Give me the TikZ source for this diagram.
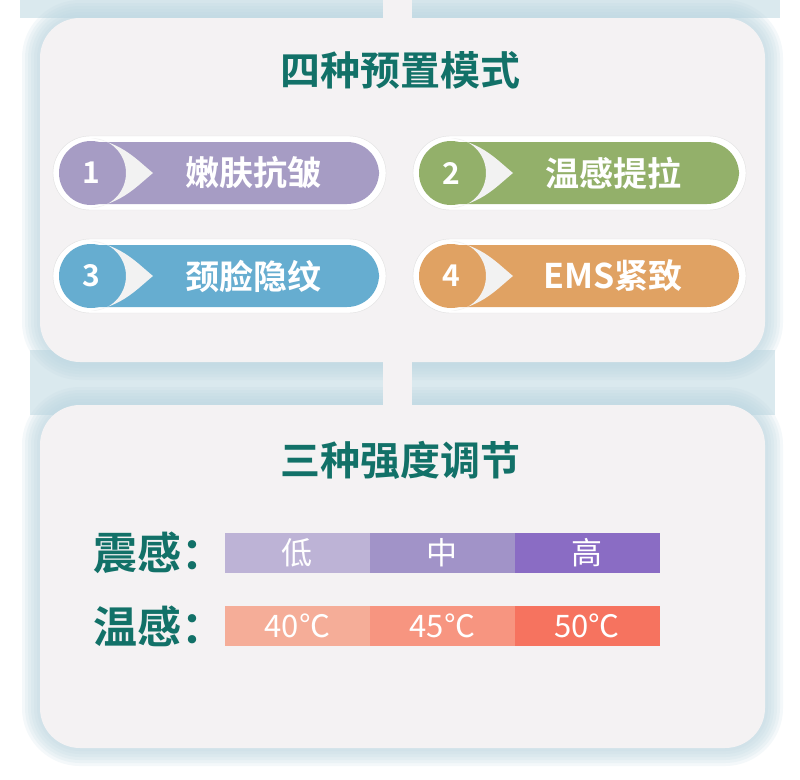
\documentclass[tikz,border=0pt]{standalone}
\usepackage{fontspec}
\newfontfamily\cjk{Noto Sans CJK SC}
\newfontfamily\cjkb{Noto Sans CJK SC Bold}
\usetikzlibrary{positioning}
\definecolor{panelbg}{HTML}{F4F2F3}
\definecolor{glowblue}{HTML}{BCD6E1}
\definecolor{tealtext}{HTML}{127168}
\definecolor{modepurple}{HTML}{A69CC4}
\definecolor{modegreen}{HTML}{93B06A}
\definecolor{modeblue}{HTML}{66ADD0}
\definecolor{modeorange}{HTML}{E0A263}
\definecolor{vibA}{HTML}{BDB3D6}
\definecolor{vibB}{HTML}{A193C8}
\definecolor{vibC}{HTML}{8A6CC4}
\definecolor{heatA}{HTML}{F5AD98}
\definecolor{heatB}{HTML}{F79580}
\definecolor{heatC}{HTML}{F6735F}

% one mode pill: x, y (centre of left end), colour, number, text, name
\newcommand{\modepill}[6]{%
  \draw[draw=black!12,fill=white,rounded corners=37] (#1,#2-37) rectangle ++(333,74);
  \fill[#3,rounded corners=32] (#1+8,#2-31) rectangle ++(318,62);
  \fill[white!95!black] (#1+38,#2-35) arc[start angle=-90,end angle=90,radius=35]
     .. controls (#1+70,#2+30) and (#1+85,#2+12) .. (#1+100,#2)
     .. controls (#1+85,#2-12) and (#1+70,#2-30) .. cycle;
  \fill[#3] (#1+38,#2) circle[radius=32];
  \node[numtext] (#6num) at (#1+38,#2) {#4};
  \node[modetext] (#6) at (#1+200,#2) {#5};
}
% soft glow around a panel: x1, y1, x2, y2
\newcommand{\panelglow}[4]{%
  \foreach \g in {18,15,...,3}
    \fill[glowblue,opacity=0.16,rounded corners=40+\g] (#1-\g,#2-\g) rectangle (#3+\g,#4+\g);
}

\begin{document}
\begin{tikzpicture}[x=1pt,y=-1pt]
	\tikzset{panel/.style={fill=panelbg,rounded corners=40},
		heading/.style={font=\cjkb\fontsize{40}{40}\selectfont,text=tealtext},
		numtext/.style={font=\cjkb\fontsize{30}{30}\selectfont,text=white},
		modetext/.style={font=\cjkb\fontsize{34}{34}\selectfont,text=white},
		rowlabel/.style={font=\cjkb\fontsize{44}{44}\selectfont,text=tealtext,anchor=west},
		levelbox/.style={minimum width=144.5pt,minimum height=40pt,inner sep=0pt,font=\cjk\fontsize{31}{31}\selectfont,text=white}}
	\fill[white] (0,0) rectangle (800,779);
	\useasboundingbox (0,0) rectangle (800,779);
	\fill[glowblue!55] (20,0) rectangle (383,18);
	\fill[glowblue!55] (412,0) rectangle (780,18);
	\fill[glowblue!55] (30,350) rectangle (383,415);
	\fill[glowblue!55] (412,350) rectangle (775,415);
	\panelglow{40}{18}{765}{362}
	\panelglow{40}{405}{765}{748}
	\fill[panelbg] (383,0) rectangle (412,20);
	\fill[panelbg] (383,355) rectangle (412,410);

	\node[panel,minimum width=725pt,minimum height=344pt] (presets) at (402.5,190) {};
	\node[panel,minimum width=725pt,minimum height=343pt] (levels) at (402.5,576.5) {};

	\node[heading] (presettitle) at (400,70) {四种预置模式};
	\modepill{53}{173}{modepurple}{1}{嫩肤抗皱}{modeA}
	\modepill{413}{173}{modegreen}{2}{温感提拉}{modeB}
	\modepill{53}{276}{modeblue}{3}{颈脸隐纹}{modeC}
	\modepill{413}{276}{modeorange}{4}{EMS紧致}{modeD}

	\node[heading] (leveltitle) at (400,460) {三种强度调节};

	\node[rowlabel] (vibration) at (90,553) {震感：};
	\node[levelbox,fill=vibA,anchor=west] (vibLow) at (225,553) {低};
	\node[levelbox,fill=vibB,right=0pt of vibLow] (vibMid) {中};
	\node[levelbox,fill=vibC,right=0pt of vibMid] (vibHigh) {高};

	\node[rowlabel] (heat) at (90,626) {温感：};
	\node[levelbox,fill=heatA,anchor=west] (heatLow) at (225,626) {40℃};
	\node[levelbox,fill=heatB,right=0pt of heatLow] (heatMid) {45℃};
	\node[levelbox,fill=heatC,right=0pt of heatMid] (heatHigh) {50℃};
\end{tikzpicture}
\end{document}
